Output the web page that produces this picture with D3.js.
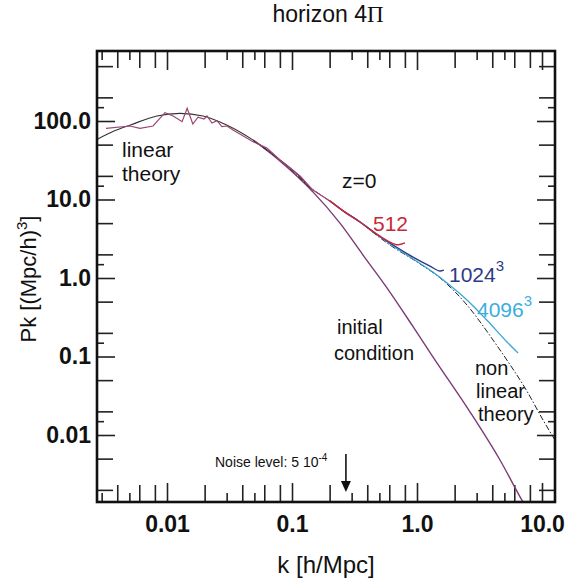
<!DOCTYPE html>
<html>
<head>
<meta charset="utf-8">
<script src="https://cdn.jsdelivr.net/npm/d3@7"></script>
<style>
  body { margin: 0; background: #fff; }
  svg { display: block; font-family: "Liberation Sans", Arial, sans-serif; }
  .tick line { stroke: #222; stroke-width: 1.6; }
  .tick text { font-weight: bold; font-size: 23px; fill: #111; }
</style>
</head>
<body>
<script>
// tick values and labels
var xMajor = [0.01, 0.1, 1, 10],
    xMajorLabels = ["0.01", "0.1", "1.0", "10.0"],
    xMid = [0.004, 0.006, 0.008, 0.02, 0.04, 0.06, 0.08, 0.2, 0.4, 0.6, 0.8, 2, 4, 6, 8],
    xShort = [0.003, 0.005, 0.03, 0.05, 0.3, 0.5, 3, 5],
    yMajor = [0.01, 0.1, 1, 10, 100],
    yMajorLabels = ["0.01", "0.1", "1.0", "10.0", "100.0"],
    yMid = [0.002, 0.005, 0.02, 0.05, 0.2, 0.5, 2, 5, 20, 50, 200, 500],
    yShort = [0.015, 0.15, 1.5, 15, 150];

// linear theory (black, low k)
var linK = [0.0028, 0.0038, 0.0051, 0.0083, 0.0127, 0.0194, 0.030, 0.049, 0.080, 0.116, 0.147],
    linP = [59, 75, 89, 116, 125, 116, 89, 57, 32, 19.4, 12.5];

// initial condition (purple)
var icK = [0.049, 0.080, 0.147, 0.242, 0.370, 0.575, 0.93, 1.34, 2.66, 4.61, 7.05, 8.0],
    icP = [57, 31, 12.5, 5.0, 1.96, 0.75, 0.24, 0.099, 0.0196, 0.0048, 0.0014, 0.001];

// measured spectrum at low k (noisy)
var simK = [0.00325, 0.00506, 0.00608, 0.00773, 0.00964, 0.0112, 0.0132, 0.0145, 0.0161, 0.0177,
            0.0198, 0.0209, 0.0229, 0.0251, 0.0275, 0.0302, 0.0337, 0.0488, 0.063, 0.0802, 0.116, 0.147, 0.201],
    simP = [80.7, 86.3, 80.7, 86.3, 127.6, 116, 98, 145, 91.6, 112,
            106, 116, 94.3, 101, 84.6, 86.3, 76.8, 54.5, 45.3, 31.8, 19.9, 13.2, 9.6];

// 512^3 run
var r512K = [0.201, 0.265, 0.350, 0.461, 0.586, 0.705, 0.802],
    r512P = [9.6, 6.9, 5.17, 3.74, 2.95, 2.65, 2.8];

// 1024^3 run
var r1024K = [0.201, 0.265, 0.350, 0.461, 0.608, 0.929, 1.27, 1.53, 1.64],
    r1024P = [9.6, 6.9, 5.17, 3.74, 2.79, 1.85, 1.42, 1.23, 1.26];

// 4096^3 run
var r4096K = [0.265, 0.350, 0.461, 0.608, 0.929, 1.34, 1.74, 2.51, 3.63, 5.25, 6.43],
    r4096P = [6.9, 5.17, 3.74, 2.71, 1.75, 1.19, 0.863, 0.525, 0.29, 0.153, 0.111];

// non linear theory (dashed)
var nlK = [0.049, 0.080, 0.147, 0.201, 0.265, 0.350, 0.461, 0.608, 1.0, 1.53, 2.51, 4.06, 4.79, 7.59, 10.2, 13.4],
    nlP = [56, 32, 13.4, 9.5, 6.9, 5.17, 3.64, 2.63, 1.60, 1.0, 0.453, 0.162, 0.111, 0.036, 0.0155, 0.0075];

var noiseK = 0.27;

var width = 566,
    height = 582,
    frame = { left: 97, right: 555, top: 51, bottom: 502 };

var svg = d3.select("body").append("svg")
    .attr("width", width)
    .attr("height", height);

var x = d3.scaleLog().domain([0.01, 10]).range([167, 542]);
var y = d3.scaleLog().domain([0.01, 100]).range([435, 121]);

function drawTicks(axisFn, scale, values, size, translate, labels) {
    var axis = axisFn(scale).tickValues(values).tickSizeInner(-size).tickSizeOuter(0);
    if (labels) {
        axis.tickFormat(function(d, i) { return labels[i]; }).tickPadding(axisFn === d3.axisBottom ? 14 : 6);
    } else {
        axis.tickFormat("");
    }
    var g = svg.append("g").attr("transform", translate).call(axis);
    g.select(".domain").remove();
    return g;
}

var bottomT = "translate(0," + frame.bottom + ")",
    topT = "translate(0," + frame.top + ")",
    leftT = "translate(" + frame.left + ",0)",
    rightT = "translate(" + frame.right + ",0)";

drawTicks(d3.axisBottom, x, xMajor, 19, bottomT, xMajorLabels);
drawTicks(d3.axisBottom, x, xMid, 17, bottomT);
drawTicks(d3.axisBottom, x, xShort, 9, bottomT);
drawTicks(d3.axisTop, x, xMajor, 19, topT);
drawTicks(d3.axisTop, x, xMid, 17, topT);
drawTicks(d3.axisTop, x, xShort, 9, topT);

drawTicks(d3.axisLeft, y, yMajor, 18, leftT, yMajorLabels);
drawTicks(d3.axisLeft, y, yMid, 16, leftT);
drawTicks(d3.axisLeft, y, yShort, 7, leftT);
drawTicks(d3.axisRight, y, yMajor, 18, rightT);
drawTicks(d3.axisRight, y, yMid, 16, rightT);
drawTicks(d3.axisRight, y, yShort, 7, rightT);

svg.append("clipPath").attr("id", "plotclip")
  .append("rect")
    .attr("x", frame.left)
    .attr("y", frame.top)
    .attr("width", frame.right - frame.left)
    .attr("height", frame.bottom - frame.top);

var plot = svg.append("g").attr("clip-path", "url(#plotclip)");

function drawCurve(ks, ps, color, width, dash, curve) {
    var line = d3.line()
        .x(function(d) { return x(d[0]); })
        .y(function(d) { return y(d[1]); })
        .curve(curve || d3.curveMonotoneX);
    plot.append("path")
        .datum(d3.zip(ks, ps))
        .attr("d", line)
        .attr("fill", "none")
        .attr("stroke", color)
        .attr("stroke-width", width)
        .attr("stroke-dasharray", dash || null);
}

drawCurve(linK, linP, "#333", 1.1);
drawCurve(icK, icP, "#7d3a78", 1.4);
drawCurve(nlK, nlP, "#222", 1, "6,2,1.5,2");
drawCurve(r4096K, r4096P, "#3aa7d8", 1.3);
drawCurve(r1024K, r1024P, "#2d3a86", 1.4);
drawCurve(r512K, r512P, "#c8283a", 1.4);
drawCurve(simK, simP, "#9a4672", 1.2, null, d3.curveLinear);

svg.append("rect")
    .attr("x", frame.left)
    .attr("y", frame.top)
    .attr("width", frame.right - frame.left)
    .attr("height", frame.bottom - frame.top)
    .attr("fill", "none")
    .attr("stroke", "#111")
    .attr("stroke-width", 2.6);

// labels
function label(tx, ty, str, size, color, anchor) {
    return svg.append("text")
        .attr("x", tx).attr("y", ty)
        .attr("font-size", size)
        .attr("fill", color || "#111")
        .attr("text-anchor", anchor || "start")
        .text(str);
}

var title = label(328, 22, "horizon 4", 23, "#111", "middle");
title.append("tspan").attr("font-family", "Liberation Serif, serif").text("\u03A0");

label(326, 573, "k [h/Mpc]", 24, "#111", "middle");

var ylab = svg.append("text")
    .attr("transform", "translate(36,279) rotate(-90)")
    .attr("text-anchor", "middle")
    .attr("font-size", 22)
    .attr("fill", "#111");
ylab.append("tspan").text("Pk [(Mpc/h)");
ylab.append("tspan").attr("font-size", 15).attr("dy", -9).text("3");
ylab.append("tspan").attr("dy", 9).text("]");

label(122, 157, "linear", 21);
label(122, 181, "theory", 21);
label(342, 188, "z=0", 21);
label(373, 231, "512", 21, "#c8283a");

var t1024 = label(449, 282, "1024", 21, "#2d3a86");
t1024.append("tspan").attr("font-size", 15).attr("dy", -11).text("3");
var t4096 = label(477, 317, "4096", 21, "#3aaee0");
t4096.append("tspan").attr("font-size", 15).attr("dy", -11).text("3");

label(337, 334, "initial", 20);
label(334, 360, "condition", 20);
label(475, 375, "non", 20);
label(476, 398, "linear", 20);
label(478, 421, "theory", 20);

var noise = label(215, 467, "Noise level: 5 10", 14);
noise.attr("font-family", "'Liberation Sans Narrow', 'Liberation Sans', sans-serif");
noise.append("tspan").attr("font-size", 10).attr("dy", -6).text("-4");

var ax = x(noiseK);
svg.append("line")
    .attr("x1", ax).attr("x2", ax)
    .attr("y1", 454).attr("y2", 484)
    .attr("stroke", "#111").attr("stroke-width", 1.6);
svg.append("path")
    .attr("d", "M" + (ax - 5) + ",481 L" + (ax + 5) + ",481 L" + ax + ",492 Z")
    .attr("fill", "#111");
</script>
</body>
</html>
